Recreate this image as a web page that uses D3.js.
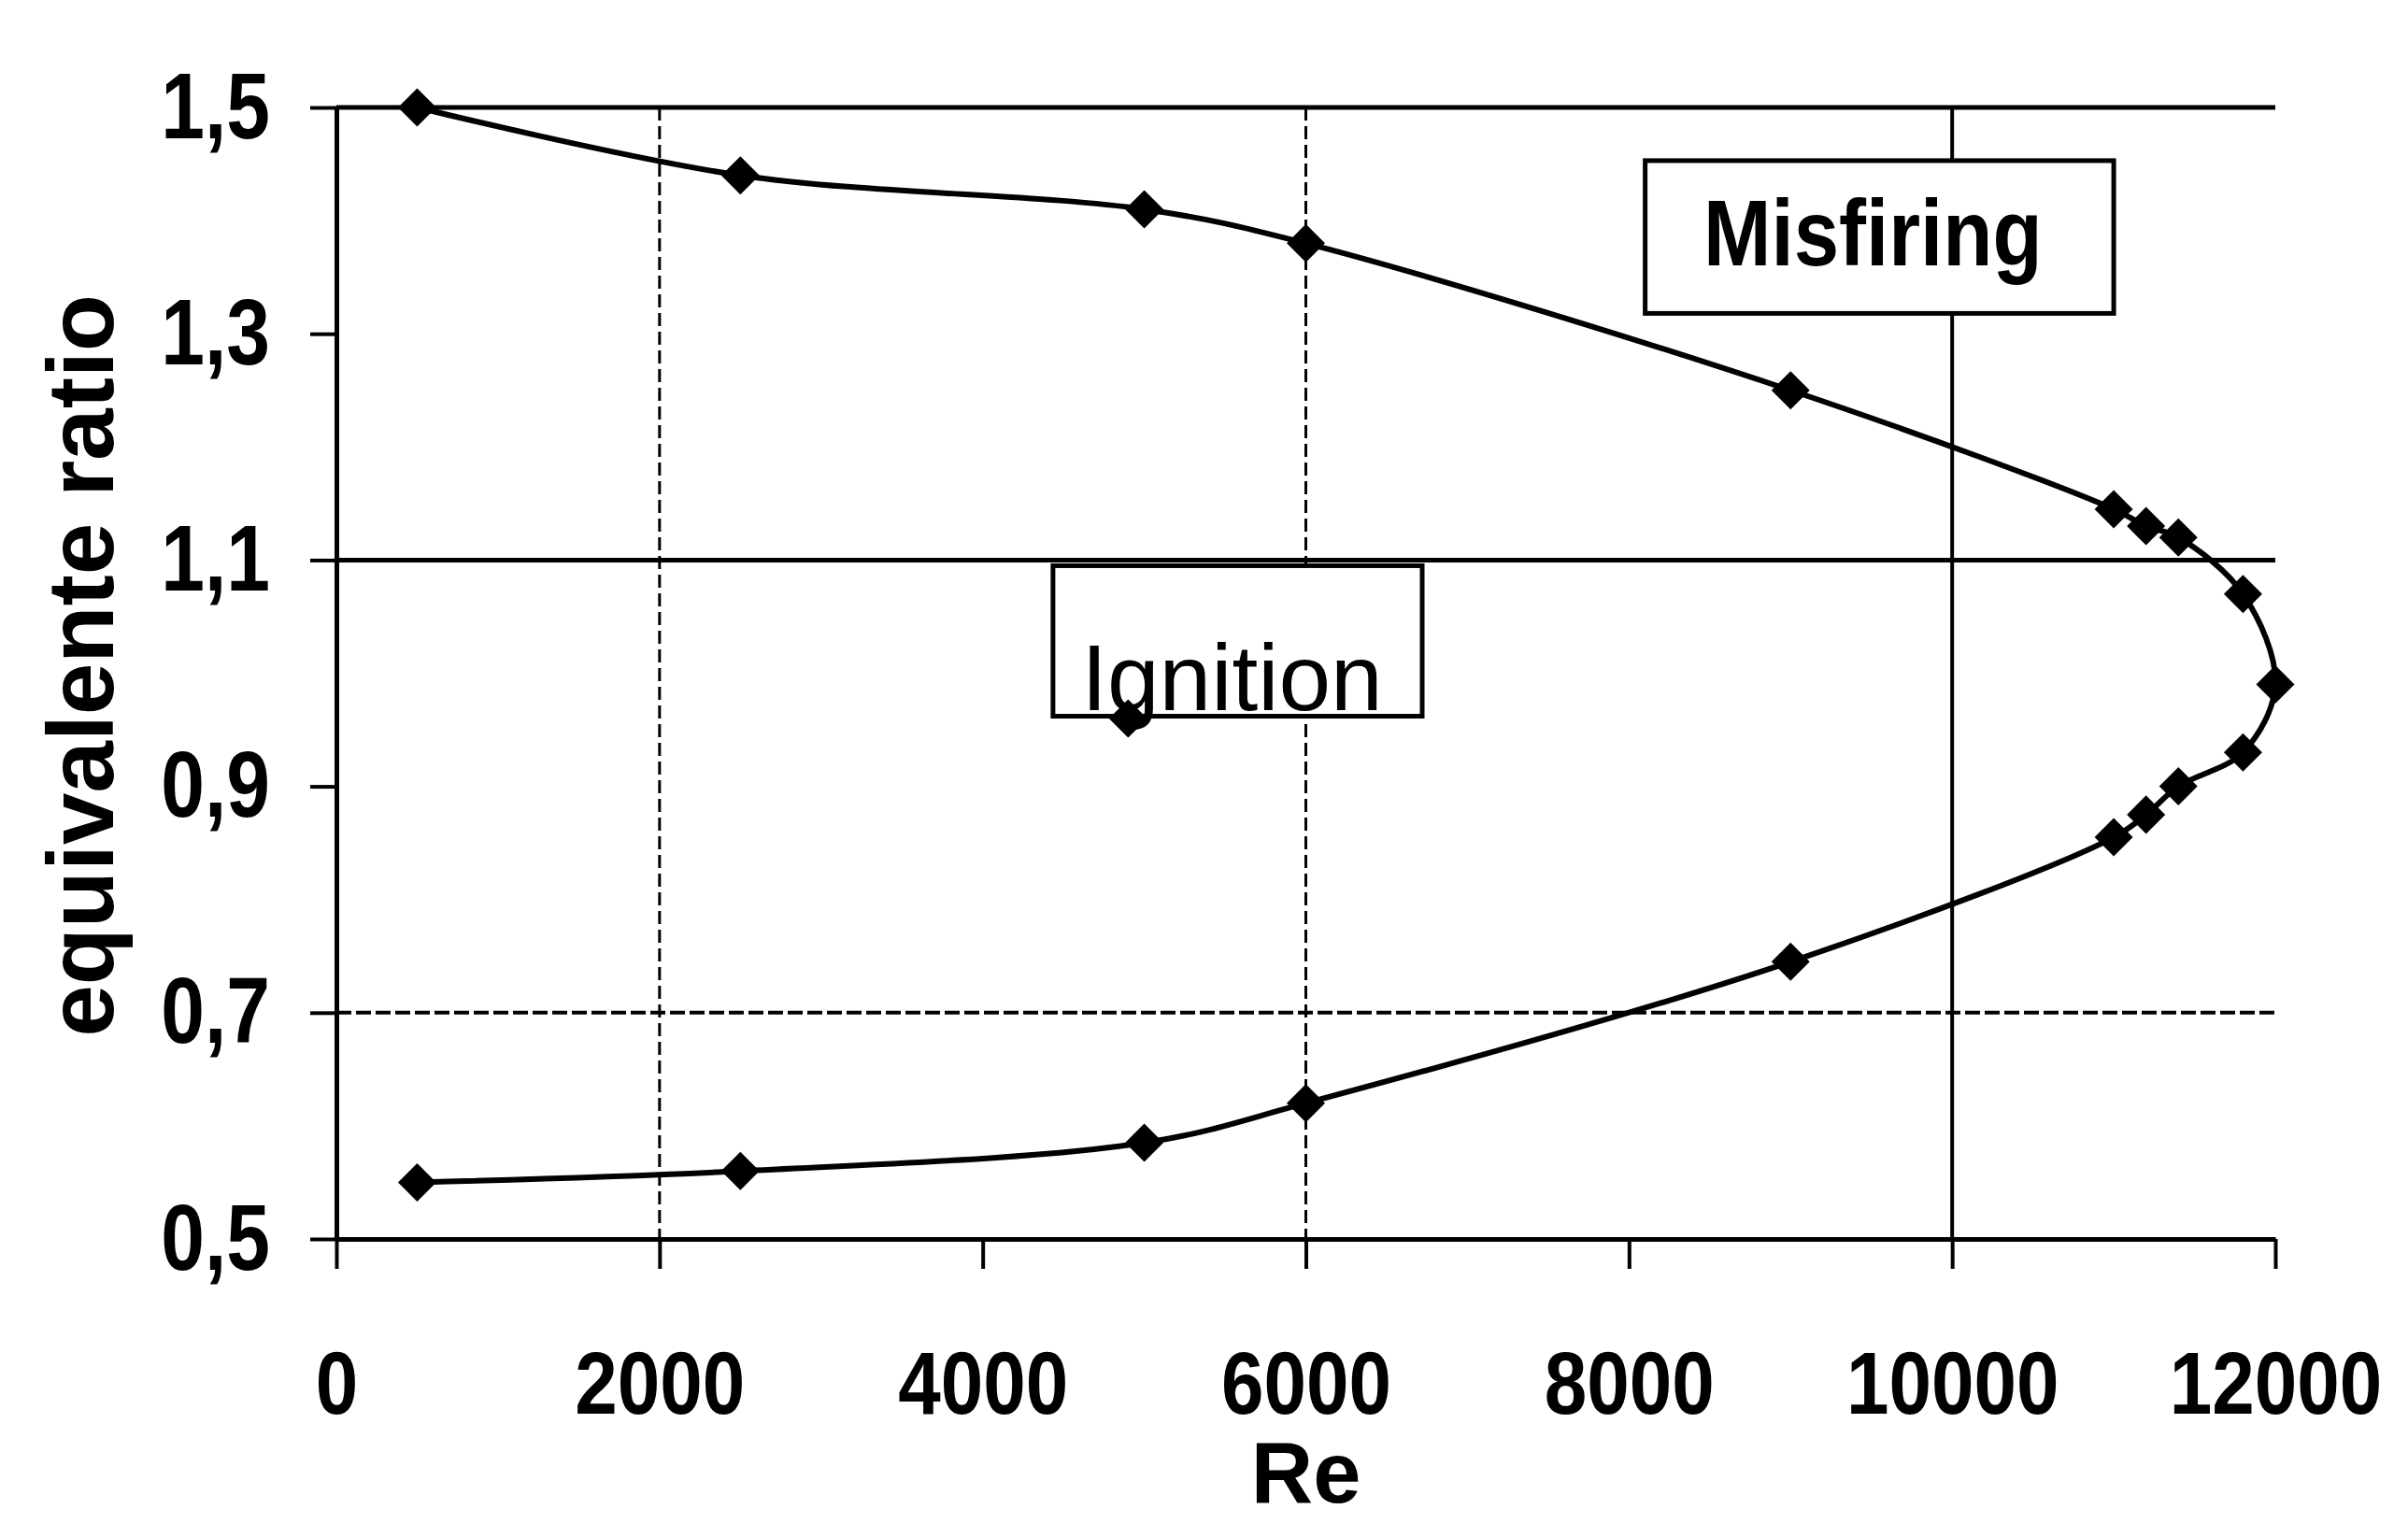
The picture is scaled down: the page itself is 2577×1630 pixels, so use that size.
<!DOCTYPE html>
<html>
<head>
<meta charset="utf-8">
<script src="https://cdn.jsdelivr.net/npm/d3@7"></script>
<style>
  html, body { margin: 0; padding: 0; background: #fff; }
  svg { display: block; }
</style>
</head>
<body>
<svg id="chart" width="2577" height="1630"></svg>
<script>
// Ignition limit curve: Reynolds number vs. equivalence ratio (upper branch, then lower branch)
const reynolds = [500, 2500, 5000, 6000, 9000, 11000, 11200, 11400, 11800, 12000,
                  11800, 11400, 11200, 11000, 9000, 6000, 5000, 2500, 500];
const ratio    = [1.50, 1.44, 1.41, 1.38, 1.25, 1.145, 1.13, 1.12, 1.07, 0.99,
                  0.93, 0.90, 0.875, 0.855, 0.745, 0.62, 0.585, 0.56, 0.55];

// isolated measurement inside the ignition zone
const singleRe    = [4900];
const singleRatio = [0.96];

// axis ticks
const xTickValues = [0, 2000, 4000, 6000, 8000, 10000, 12000];
const yTickValues = [0.5, 0.7, 0.9, 1.1, 1.3, 1.5];

// gridlines
const xGridSolid  = [10000];
const xGridDashed = [2000, 6000];
const yGridSolid  = [1.1, 1.5];
const yGridDashed = [0.7];

// zone labels
const zoneLabels = ["Misfiring", "Ignition"];

const FONT = "'Liberation Sans', Arial, Helvetica, sans-serif";

const svg = d3.select("#chart");
const x = d3.scaleLinear().domain([0, 12000]).range([360, 2435]);
const y = d3.scaleLinear().domain([0.5, 1.5]).range([1326, 115]);

// squeeze glyphs horizontally to the narrow print face
function condense(sel, f) {
  sel.each(function () {
    const w = this.getComputedTextLength();
    this.setAttribute("textLength", w * f);
    this.setAttribute("lengthAdjust", "spacingAndGlyphs");
  });
}

// ---- gridlines
const grid = svg.append("g").attr("stroke", "#000").attr("fill", "none");
grid.selectAll("line.xs").data(xGridSolid).join("line")
  .attr("x1", d => x(d)).attr("x2", d => x(d))
  .attr("y1", y(1.5)).attr("y2", y(0.5))
  .attr("stroke-width", 4);
grid.selectAll("line.xd").data(xGridDashed).join("line")
  .attr("x1", d => x(d)).attr("x2", d => x(d))
  .attr("y1", y(1.5)).attr("y2", y(0.5))
  .attr("stroke-width", 3).attr("stroke-dasharray", "14 6");
grid.selectAll("line.ys").data(yGridSolid).join("line")
  .attr("x1", x(0)).attr("x2", x(12000))
  .attr("y1", d => y(d)).attr("y2", d => y(d))
  .attr("stroke-width", 5);
grid.selectAll("line.yd").data(yGridDashed).join("line")
  .attr("x1", x(0)).attr("x2", x(12000))
  .attr("y1", d => y(d)).attr("y2", d => y(d))
  .attr("stroke-width", 4).attr("stroke-dasharray", "16 5");

// ---- axes
const xAxis = d3.axisBottom(x)
  .tickValues(xTickValues)
  .tickSize(32).tickSizeOuter(0).tickPadding(88)
  .tickFormat(d3.format("d"));
const gx = svg.append("g").attr("transform", `translate(0,${y(0.5)})`).call(xAxis);

const yAxis = d3.axisLeft(y)
  .tickValues(yTickValues)
  .tickSize(28).tickSizeOuter(0).tickPadding(43)
  .tickFormat(d => d.toFixed(1).replace(".", ","));
const gy = svg.append("g").attr("transform", `translate(${x(0)},0)`).call(yAxis);

[gx, gy].forEach(g => {
  g.select(".domain").attr("stroke", "#000").attr("stroke-width", 5);
  g.selectAll(".tick line").attr("stroke", "#000").attr("stroke-width", 4);
  g.selectAll(".tick text")
    .attr("fill", "#000")
    .style("font-family", FONT)
    .style("font-weight", "bold");
});
gx.selectAll(".tick text").style("font-size", "94px");
gy.selectAll(".tick text").style("font-size", "100px");
condense(gx.selectAll(".tick text"), 0.87);
condense(gy.selectAll(".tick text"), 0.84);

// axis titles
svg.append("text")
  .attr("x", (x(0) + x(12000)) / 2).attr("y", 1608)
  .attr("text-anchor", "middle")
  .style("font-family", FONT).style("font-size", "92px").style("font-weight", "bold")
  .text("Re");

svg.append("text")
  .attr("transform", `translate(121,${(y(0.5) + y(1.5)) / 2 - 8}) rotate(-90)`)
  .attr("text-anchor", "middle")
  .style("font-family", FONT).style("font-size", "100px").style("font-weight", "bold")
  .text("equivalente ratio");

// ---- limit curve
const pts = reynolds.map((r, i) => [r, ratio[i]]);
const line = d3.line()
  .x(d => x(d[0])).y(d => y(d[1]))
  .curve(d3.curveCatmullRom.alpha(0.5));
svg.append("path")
  .datum(pts)
  .attr("d", line)
  .attr("fill", "none").attr("stroke", "#000").attr("stroke-width", 6);

const diamond = d3.symbol(d3.symbolSquare, 29 * 29);
svg.append("g").selectAll("path").data(pts).join("path")
  .attr("d", diamond)
  .attr("transform", d => `translate(${x(d[0])},${y(d[1])}) rotate(45)`)
  .attr("fill", "#000");

// ---- zone labels
const misX0 = x(8100), misX1 = x(11000), misY0 = y(1.453), misY1 = y(1.318);
svg.append("rect")
  .attr("x", misX0).attr("y", misY0)
  .attr("width", misX1 - misX0).attr("height", misY1 - misY0)
  .attr("fill", "#fff").attr("stroke", "#000").attr("stroke-width", 5);
const misText = svg.append("text")
  .attr("x", (misX0 + misX1) / 2 - 7).attr("y", 284)
  .attr("text-anchor", "middle")
  .style("font-family", FONT).style("font-size", "100px").style("font-weight", "bold")
  .text(zoneLabels[0]);
condense(misText, 0.87);

const ignX0 = x(4435), ignX1 = x(6720), ignY0 = y(1.095), ignY1 = y(0.962);
svg.append("rect")
  .attr("x", ignX0).attr("y", ignY0)
  .attr("width", ignX1 - ignX0).attr("height", ignY1 - ignY0)
  .attr("fill", "#fff").attr("stroke", "#000").attr("stroke-width", 5);
svg.append("text")
  .attr("x", (ignX0 + ignX1) / 2 - 6).attr("y", 760)
  .attr("text-anchor", "middle")
  .style("font-family", FONT).style("font-size", "100px")
  .text(zoneLabels[1]);

// isolated point
svg.append("g").selectAll("path").data(singleRe.map((r, i) => [r, singleRatio[i]])).join("path")
  .attr("d", diamond)
  .attr("transform", d => `translate(${x(d[0])},${y(d[1])}) rotate(45)`)
  .attr("fill", "#000");
</script>
</body>
</html>
